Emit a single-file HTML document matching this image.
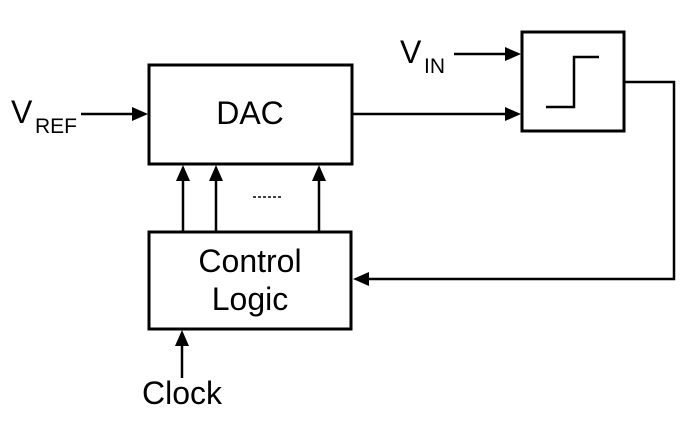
<!DOCTYPE html>
<html><head><style>
html,body{margin:0;padding:0;background:#fff;}
svg{display:block;}
text{font-family:"Liberation Sans",Arial,sans-serif;fill:#000;}
</style></head><body>
<svg width="694" height="422" viewBox="0 0 694 422" xmlns="http://www.w3.org/2000/svg">
<g fill="none" stroke="#000" stroke-width="3">
<rect x="149" y="65" width="203" height="99"/>
<rect x="149" y="232" width="202" height="97"/>
<rect x="522" y="32" width="102" height="99"/>
</g>
<g fill="none" stroke="#000" stroke-width="2.5">
<line x1="81" y1="114" x2="136" y2="114"/>
<line x1="352" y1="114" x2="509" y2="114"/>
<line x1="454" y1="54" x2="509" y2="54"/>
<polyline points="624,82 674,82 674,279 366,279"/>
<line x1="183" y1="232" x2="183" y2="178"/>
<line x1="216" y1="232" x2="216" y2="178"/>
<line x1="319" y1="232" x2="319" y2="178"/>
<line x1="182" y1="378" x2="182" y2="343"/>
<polyline points="546,107 574,107 574,57 599,57"/>
<line x1="253" y1="197" x2="283" y2="197" stroke-width="1.5" stroke-dasharray="3,2"/>
</g>
<g fill="#000">
<polygon points="148,114 132,107 132,121"/>
<polygon points="521,114 505,107 505,121"/>
<polygon points="521,54 505,47 505,61"/>
<polygon points="353,279 369,272 369,286"/>
<polygon points="183,165 176,181 190,181"/>
<polygon points="216,165 209,181 223,181"/>
<polygon points="319,165 312,181 326,181"/>
<polygon points="182,330 175,346 189,346"/>
</g>
<text x="250" y="124" font-size="32" text-anchor="middle">DAC</text>
<text x="250" y="272" font-size="32" text-anchor="middle">Control</text>
<text x="250" y="310" font-size="32" text-anchor="middle">Logic</text>
<text x="142" y="404" font-size="32">Clock</text>
<text x="11" y="123" font-size="32">V</text>
<text x="35" y="133" font-size="21">REF</text>
<text x="400" y="63" font-size="32">V</text>
<text x="424" y="73" font-size="21">IN</text>
</svg>
</body></html>
